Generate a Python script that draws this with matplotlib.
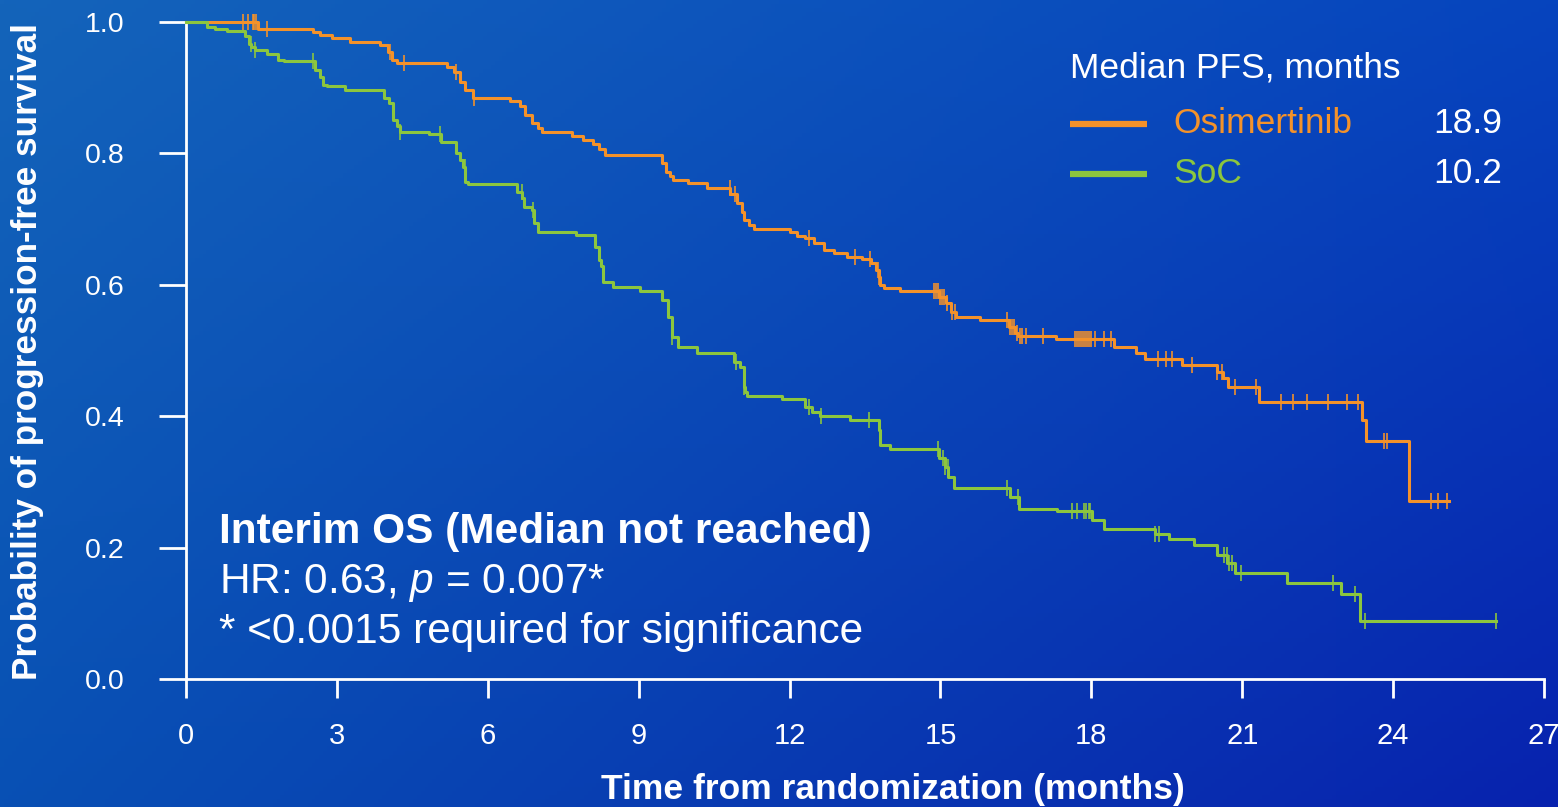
import numpy as np
import matplotlib
matplotlib.use('Agg')
import matplotlib.pyplot as plt
from matplotlib.lines import Line2D

plt.rcParams['font.family'] = ['Liberation Sans', 'DejaVu Sans']
plt.rcParams['mathtext.fontset'] = 'custom'
plt.rcParams['mathtext.rm'] = 'Liberation Sans'
plt.rcParams['mathtext.it'] = 'Liberation Sans:italic'

# ---------------- data ----------------
osi_time = [0, 1.43, 2.53, 2.66, 2.90, 3.26, 3.86, 4.02, 4.10, 4.20,
            5.19, 5.33, 5.45, 5.55, 5.70, 6.45, 6.65, 6.75, 6.88, 7.00,
            7.07, 7.67, 7.90, 8.10, 8.22, 8.34, 9.46, 9.55, 9.62, 9.69,
            9.99, 10.36, 10.82, 10.95, 11.05, 11.10, 11.19, 11.29, 12.01, 12.15,
            12.30, 12.48, 12.68, 12.88, 13.14, 13.44, 13.61, 13.71, 13.77, 13.80,
            13.87, 14.20, 14.98, 15.12, 15.21, 15.30, 15.79, 16.36, 16.49, 16.54,
            17.30, 18.45, 18.89, 19.07, 19.80, 20.49, 20.62, 20.71, 21.33, 23.38,
            23.46, 24.31]
osi_surv = [1.000, 0.990, 0.985, 0.980, 0.975, 0.969, 0.965, 0.955, 0.942, 0.938,
            0.932, 0.924, 0.909, 0.896, 0.884, 0.879, 0.872, 0.858, 0.846, 0.838,
            0.832, 0.826, 0.821, 0.815, 0.806, 0.797, 0.785, 0.772, 0.766, 0.760,
            0.755, 0.748, 0.738, 0.724, 0.711, 0.699, 0.691, 0.685, 0.680, 0.675,
            0.671, 0.663, 0.653, 0.648, 0.643, 0.640, 0.633, 0.623, 0.612, 0.600,
            0.595, 0.590, 0.582, 0.572, 0.559, 0.551, 0.546, 0.536, 0.526, 0.522,
            0.518, 0.505, 0.496, 0.487, 0.478, 0.468, 0.458, 0.445, 0.422, 0.394,
            0.362, 0.271]
osi_end = 25.11
osi_censor = [1.13, 1.23, 1.33, 1.35, 1.39, 1.61, 4.06, 4.34, 5.37, 5.73,
              10.81, 10.91, 12.38, 13.31, 13.59, 13.75, 13.78, 14.88, 14.92, 14.96,
              15.00, 15.04, 15.08, 15.14, 15.22, 15.28, 16.33, 16.38, 16.42, 16.47,
              16.52, 16.58, 16.63, 16.70, 17.03, 17.68, 17.72, 17.76, 17.80, 17.84,
              17.88, 17.92, 17.96, 18.00, 18.08, 18.25, 18.40, 19.33, 19.49, 19.60,
              20.00, 20.50, 20.60, 20.85, 21.28, 21.78, 22.00, 22.28, 22.70, 23.08,
              23.31, 23.82, 23.88, 24.75, 24.90, 25.08]

soc_time = [0, 0.41, 0.58, 0.81, 1.17, 1.25, 1.30, 1.37, 1.62, 1.82,
            1.95, 2.57, 2.67, 2.73, 2.80, 3.16, 3.94, 4.04, 4.12, 4.19,
            4.26, 4.83, 5.07, 5.36, 5.44, 5.51, 5.55, 5.60, 6.58, 6.69,
            6.73, 6.88, 6.92, 6.99, 7.76, 8.14, 8.22, 8.26, 8.29, 8.48,
            9.02, 9.47, 9.59, 9.66, 9.78, 10.15, 10.89, 11.02, 11.09, 11.12,
            11.15, 11.85, 12.31, 12.45, 12.61, 13.21, 13.77, 13.80, 14.00, 14.97,
            15.10, 15.16, 15.26, 16.39, 16.56, 17.32, 18.02, 18.25, 19.26, 19.54,
            20.04, 20.50, 20.70, 20.85, 21.90, 22.96, 23.34]
soc_surv = [1.000, 0.993, 0.990, 0.987, 0.978, 0.966, 0.962, 0.957, 0.952, 0.942,
            0.940, 0.927, 0.917, 0.904, 0.902, 0.897, 0.884, 0.876, 0.851, 0.841,
            0.833, 0.829, 0.818, 0.800, 0.790, 0.780, 0.757, 0.753, 0.741, 0.732,
            0.719, 0.714, 0.694, 0.681, 0.676, 0.658, 0.638, 0.628, 0.605, 0.597,
            0.590, 0.577, 0.551, 0.521, 0.506, 0.496, 0.483, 0.475, 0.445, 0.437,
            0.431, 0.426, 0.414, 0.407, 0.400, 0.394, 0.379, 0.356, 0.350, 0.336,
            0.323, 0.308, 0.291, 0.277, 0.259, 0.255, 0.242, 0.228, 0.221, 0.213,
            0.204, 0.189, 0.176, 0.162, 0.146, 0.130, 0.089]
soc_end = 26.04
soc_censor = [1.29, 1.37, 2.53, 4.26, 5.05, 5.54, 6.68, 6.90, 9.66, 10.94,
              11.10, 12.39, 12.63, 13.57, 14.95, 15.05, 15.10, 15.15, 16.33, 16.55,
              17.62, 17.72, 17.85, 17.90, 17.95, 17.98, 19.26, 19.34, 20.64, 20.69,
              20.74, 20.80, 20.97, 22.81, 23.24, 23.44, 26.04]

arm_names = ['Osimertinib', 'SoC']
median_pfs = ['18.9', '10.2']
arm_colors = ['#F4922A', '#8CC63E']

x_ticks = [0, 3, 6, 9, 12, 15, 18, 21, 24, 27]
y_ticks = [0.0, 0.2, 0.4, 0.6, 0.8, 1.0]

# ---------------- figure ----------------
W, H = 1558, 807
fig = plt.figure(figsize=(W / 100, H / 100), dpi=100)

# background gradient
bg = fig.add_axes([0, 0, 1, 1], zorder=0)
ny, nx = 200, 400
u = np.linspace(0, 1, nx)[None, :, None]
v = np.linspace(0, 1, ny)[:, None, None]
TL = np.array([20, 100, 186]) / 255
TR = np.array([6, 68, 190]) / 255
BL = np.array([8, 80, 180]) / 255
BR = np.array([8, 34, 174]) / 255
img = (1 - u) * (1 - v) * TL + u * (1 - v) * TR + (1 - u) * v * BL + u * v * BR
bg.imshow(img, extent=[0, 1, 0, 1], aspect='auto', origin='upper')
bg.axis('off')

ax = fig.add_axes([186 / W, (H - 679) / H, (1544 - 186) / W, (679 - 22) / H], zorder=2)
ax.set_facecolor('none')
ax.set_xlim(0, 27)
ax.set_ylim(0, 1.0)

curves = [(osi_time, osi_surv, osi_end, osi_censor),
          (soc_time, soc_surv, soc_end, soc_censor)]
for (t, s, end, cens), col in zip(curves, arm_colors):
    t = np.asarray(t)
    s = np.asarray(s)
    ax.step(np.append(t, end), np.append(s, s[-1]), where='post',
            color=col, lw=2.2, clip_on=False, zorder=3)
    c = np.asarray(cens)
    idx = np.searchsorted(t, c, side='right') - 1
    ax.plot(c, s[idx], ls='none', marker='|', ms=11, mew=1.3,
            color=col, alpha=0.9, clip_on=False, zorder=4)

for side in ['top', 'right']:
    ax.spines[side].set_visible(False)
for side in ['left', 'bottom']:
    ax.spines[side].set_color('white')
    ax.spines[side].set_linewidth(2.0)

ax.set_xticks(x_ticks)
ax.set_xticklabels([str(x) for x in x_ticks])
ax.set_yticks(y_ticks)
ax.set_yticklabels([f'{y:.1f}' for y in y_ticks])
ax.tick_params(axis='x', colors='white', length=14, width=2.0, pad=17, labelsize=21)
ax.tick_params(axis='y', colors='white', length=19.5, width=2.0, pad=25, labelsize=20.5)

# axis titles
fig.text(27.5 / W, 1 - 352 / H, 'Probability of progression-free survival',
         rotation=90, ha='center', va='center', color='white',
         fontsize=25.3, fontweight='bold')
fig.text(893 / W, 1 - 799 / H, 'Time from randomization (months)',
         ha='center', va='baseline', color='white', fontsize=25.5, fontweight='bold')

# legend block
fig.text(1070 / W, 1 - 78 / H, 'Median PFS, months', ha='left', va='baseline',
         color='white', fontsize=25.5)
leg_y = [123.5, 173.5]
leg_base = [133, 183]
for name, med, col, ly, lb in zip(arm_names, median_pfs, arm_colors, leg_y, leg_base):
    fig.add_artist(Line2D([1070 / W, 1147 / W], [1 - ly / H, 1 - ly / H],
                          color=col, lw=4.5, solid_capstyle='butt'))
    fig.text(1173 / W, 1 - lb / H, name, ha='left', va='baseline',
             color=col, fontsize=25.5)
    fig.text(1502 / W, 1 - lb / H, med, ha='right', va='baseline',
             color='white', fontsize=25.5)

# annotation block
fig.text(219 / W, 1 - 543 / H, 'Interim OS (Median not reached)', ha='left',
         va='baseline', color='white', fontsize=30.5, fontweight='bold')
fig.text(219 / W, 1 - 593 / H, r'HR: 0.63, $\mathit{p}$ = 0.007*', ha='left',
         va='baseline', color='white', fontsize=30.5)
fig.text(219 / W, 1 - 643 / H, '* <0.0015 required for significance', ha='left',
         va='baseline', color='white', fontsize=30.5)

fig.savefig('out.png', dpi=100)
